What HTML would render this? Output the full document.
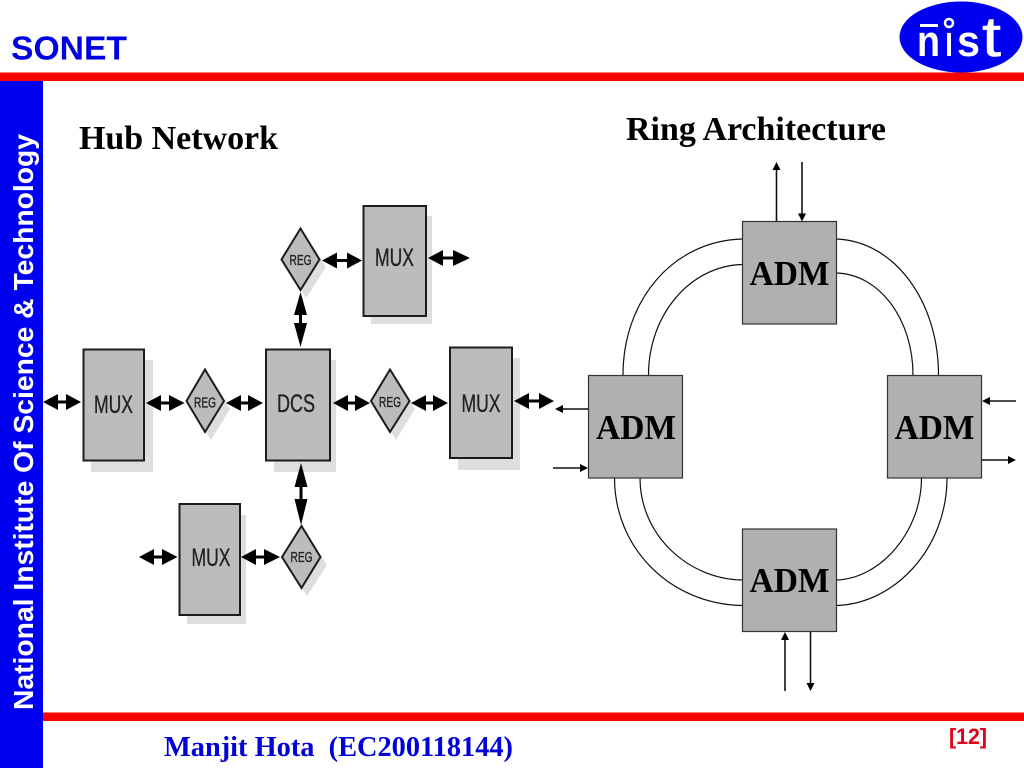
<!DOCTYPE html>
<html><head><meta charset="utf-8"><title>SONET</title>
<style>html,body{margin:0;padding:0;background:#fff}svg{display:block}</style></head>
<body>
<svg xmlns="http://www.w3.org/2000/svg" width="1024" height="768" viewBox="0 0 1024 768">
<rect width="1024" height="768" fill="#fff"/>
<!-- frame -->
<rect x="0" y="72.5" width="1024" height="8.5" fill="#f00"/>
<rect x="43" y="712.5" width="981" height="8.5" fill="#f00"/>
<rect x="0" y="81" width="43" height="687" fill="#0000f0"/>
<text transform="translate(33,710) rotate(-90)" font-family="Liberation Sans" font-weight="bold" font-size="28" fill="#fff" textLength="576" lengthAdjust="spacingAndGlyphs">National Institute Of Science &amp; Technology</text>
<text x="11" y="59.5" font-family="Liberation Sans" font-weight="bold" font-size="33.5" fill="#0000e0" textLength="116" lengthAdjust="spacingAndGlyphs">SONET</text>
<!-- logo -->
<ellipse cx="961" cy="37" rx="61.5" ry="35.5" fill="#0000f0"/>
<rect x="920" y="24" width="18" height="3" fill="#fff"/>
<circle cx="949" cy="23" r="4" fill="none" stroke="#fff" stroke-width="2.5"/>
<g font-family="Liberation Sans" font-weight="bold" fill="#fff">
<text x="917" y="56" font-size="44" textLength="23" lengthAdjust="spacingAndGlyphs">n</text>
<text x="945" y="56" font-size="44" textLength="8" lengthAdjust="spacingAndGlyphs">ı</text>
<text x="957" y="56" font-size="44" textLength="23" lengthAdjust="spacingAndGlyphs">s</text>
<text x="982" y="56" font-size="57" font-weight="normal" stroke="#fff" stroke-width="0.6" textLength="19" lengthAdjust="spacingAndGlyphs">t</text>
</g>
<!-- headings -->
<text x="79" y="149" font-family="Liberation Serif" font-weight="bold" font-size="34" fill="#000" textLength="199" lengthAdjust="spacingAndGlyphs">Hub Network</text>
<text x="626" y="140" font-family="Liberation Serif" font-weight="bold" font-size="34" fill="#000" textLength="260" lengthAdjust="spacingAndGlyphs">Ring Architecture</text>
<text x="164" y="756" font-family="Liberation Serif" font-weight="bold" font-size="28" fill="#0000d8" textLength="349" lengthAdjust="spacingAndGlyphs" xml:space="preserve">Manjit Hota  (EC200118144)</text>
<text x="949" y="744" font-family="Liberation Sans" font-weight="bold" font-size="22" fill="#e00018" textLength="38" lengthAdjust="spacingAndGlyphs">[12]</text>

<!-- hub shadows -->
<g fill="#dedede">
<rect x="91" y="360" width="62" height="112"/>
<rect x="274" y="360" width="62" height="112"/>
<rect x="458" y="358" width="62" height="112"/>
<rect x="371" y="216" width="61" height="108"/>
<rect x="187" y="515" width="59" height="109"/>
<polygon points="211,377 230,409 211,440 192,409"/>
<polygon points="396,377 415,409 396,440 377,409"/>
<polygon points="306,236 326,267 306,298 287,267"/>
<polygon points="307,534 327,565 307,596 288,565"/>
</g>
<!-- hub boxes -->
<g fill="#bcbcbc" stroke="#1c1c1c" stroke-width="2">
<rect x="83.5" y="349.5" width="60.5" height="111"/>
<rect x="266" y="349.5" width="64" height="111"/>
<rect x="450" y="347.5" width="62" height="110.5"/>
<rect x="363.5" y="206" width="62.5" height="110"/>
<rect x="179.5" y="504" width="60.5" height="111"/>
<polygon points="205,369.5 224,401 205,432 186.5,401"/>
<polygon points="390,369.5 409.5,401 390,432 371,401"/>
<polygon points="300.5,228.5 319.5,259.5 300.5,290 281.5,259.5"/>
<polygon points="301.5,526 320.5,557 301.5,588 282,557"/>
</g>
<!-- hub labels -->
<g font-family="Liberation Sans" fill="#222" stroke="#222" stroke-width="0.35" text-anchor="middle">
<text x="113.5" y="413" font-size="25" textLength="39" lengthAdjust="spacingAndGlyphs">MUX</text>
<text x="296" y="412" font-size="25" textLength="38" lengthAdjust="spacingAndGlyphs">DCS</text>
<text x="481" y="412" font-size="25" textLength="39" lengthAdjust="spacingAndGlyphs">MUX</text>
<text x="394.5" y="266" font-size="25" textLength="39" lengthAdjust="spacingAndGlyphs">MUX</text>
<text x="211" y="566" font-size="25" textLength="39" lengthAdjust="spacingAndGlyphs">MUX</text>
<text x="205" y="407.5" font-size="14.5" textLength="22" lengthAdjust="spacingAndGlyphs">REG</text>
<text x="390" y="407" font-size="14.5" textLength="22" lengthAdjust="spacingAndGlyphs">REG</text>
<text x="300.5" y="265" font-size="14.5" textLength="22" lengthAdjust="spacingAndGlyphs">REG</text>
<text x="301.5" y="562" font-size="14.5" textLength="22" lengthAdjust="spacingAndGlyphs">REG</text>
</g>
<!-- hub arrows -->
<g fill="#000" stroke="none">
<polygon points="43,402 58,394 58,400.5 66,400.5 66,394 81,402 66,410 66,403.5 58,403.5 58,410"/>
<polygon points="146,403 161,395 161,401.5 169,401.5 169,395 184.5,403 169,411 169,404.5 161,404.5 161,411"/>
<polygon points="226,403 241,395 241,401.5 248,401.5 248,395 263,403 248,411 248,404.5 241,404.5 241,411"/>
<polygon points="333,403 348,395 348,401.5 355,401.5 355,395 370,403 355,411 355,404.5 348,404.5 348,411"/>
<polygon points="411,403 426,395 426,401.5 433,401.5 433,395 448,403 433,411 433,404.5 426,404.5 426,411"/>
<polygon points="514,401 529,393 529,399.5 539,399.5 539,393 554,401 539,409 539,402.5 529,402.5 529,409"/>
<polygon points="322,260.5 337,252.5 337,259 347,259 347,252.5 362,260.5 347,268.5 347,262 337,262 337,268.5"/>
<polygon points="428,258 443,250 443,256.5 453,256.5 453,250 470,258 453,266 453,259.5 443,259.5 443,266"/>
<polygon points="139,557 154,549 154,555.5 162,555.5 162,549 177.5,557 162,565 162,558.5 154,558.5 154,565"/>
<polygon points="241,557 256,549 256,555.5 264,555.5 264,549 280,557 264,565 264,558.5 256,558.5 256,565"/>
<polygon points="300.5,292 307,315 302,315 302,323 307,323 300.5,347 294,323 299,323 299,315 294,315"/>
<polygon points="301,463 307.5,487 302.5,487 302.5,499 307.5,499 301,525 294.5,499 299.5,499 299.5,487 294.5,487"/>
</g>

<!-- ring arcs -->
<g fill="none" stroke="#111" stroke-width="1.2">
<path d="M742,239 C673,241 623,300 623,375"/>
<path d="M742,264.5 C690,266 648.5,315 648.5,375"/>
<path d="M836,239 C895,241 938.5,302 938.5,375"/>
<path d="M836,273 C880,274 913,320 913,375"/>
<path d="M614.5,478 C614.5,548 670,604 742,605.5"/>
<path d="M640,478 C640,535 688,579 742,580"/>
<path d="M921.5,478 C921.5,532 880,579 836,580"/>
<path d="M947,478 C947,548 895,604 836,605.5"/>
</g>
<!-- ring boxes -->
<g fill="#b0b0b0" stroke="#333" stroke-width="1.2">
<rect x="742.5" y="221.5" width="94" height="102.5"/>
<rect x="588.5" y="375.5" width="94" height="102.5"/>
<rect x="887.5" y="375.5" width="94" height="102.5"/>
<rect x="742.5" y="529" width="94" height="102.5"/>
</g>
<g font-family="Liberation Serif" font-weight="bold" font-size="35" fill="#000" text-anchor="middle">
<text x="789.5" y="285" textLength="80" lengthAdjust="spacingAndGlyphs">ADM</text>
<text x="636" y="439" textLength="80" lengthAdjust="spacingAndGlyphs">ADM</text>
<text x="934.5" y="439" textLength="80" lengthAdjust="spacingAndGlyphs">ADM</text>
<text x="789.5" y="592" textLength="80" lengthAdjust="spacingAndGlyphs">ADM</text>
</g>
<!-- ring arrows -->
<g stroke="#111" stroke-width="1.6">
<line x1="776.5" y1="221" x2="776.5" y2="168"/>
<line x1="802" y1="162" x2="802" y2="216"/>
<line x1="588" y1="409" x2="561" y2="409"/>
<line x1="553" y1="468" x2="583" y2="468"/>
<line x1="1016" y1="401" x2="987" y2="401"/>
<line x1="982" y1="460" x2="1010" y2="460"/>
<line x1="785" y1="691" x2="785" y2="637"/>
<line x1="810.5" y1="632" x2="810.5" y2="684"/>
</g>
<g fill="#000">
<polygon points="776.5,162 772.5,170 780.5,170"/>
<polygon points="802,221.5 798,213.5 806,213.5"/>
<polygon points="555,409 563,405 563,413"/>
<polygon points="588,468 580,464 580,472"/>
<polygon points="982,401 990,397 990,405"/>
<polygon points="1016,460 1008,456 1008,464"/>
<polygon points="785,632 781,640 789,640"/>
<polygon points="810.5,691 806.5,683 814.5,683"/>
</g>
</svg>
</body></html>
